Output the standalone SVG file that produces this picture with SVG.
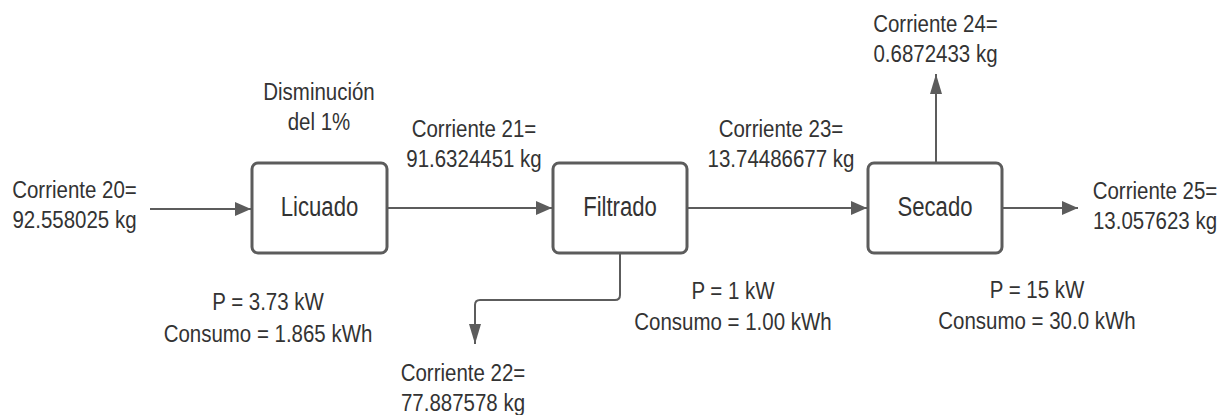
<svg xmlns="http://www.w3.org/2000/svg" width="1225" height="415" viewBox="0 0 1225 415">
<style>
.box{fill:#ffffff;stroke:#5c5c5c;stroke-width:3}
.ln{fill:none;stroke:#5c5c5c;stroke-width:2}
.t{font-family:"Liberation Sans",Arial,sans-serif;font-size:23px;fill:#333333;text-anchor:middle}
.b{font-family:"Liberation Sans",Arial,sans-serif;font-size:28px;fill:#333333;text-anchor:middle}
</style>
<defs>
<marker id="ah" markerUnits="userSpaceOnUse" markerWidth="16" markerHeight="14" refX="16" refY="7" orient="auto">
<path d="M0,0 L16,7 L0,14 Z" fill="#5c5c5c"/>
</marker>
<marker id="av" markerUnits="userSpaceOnUse" markerWidth="20" markerHeight="12" refX="20" refY="6" orient="auto">
<path d="M0,0 L20,6 L0,12 Z" fill="#5c5c5c"/>
</marker>
</defs>
<rect width="1225" height="415" fill="#ffffff"/>
<g id="connectors">
<line class="ln" x1="150" y1="209" x2="251" y2="209" marker-end="url(#ah)"/>
<line class="ln" x1="388" y1="208" x2="552" y2="208" marker-end="url(#ah)"/>
<line class="ln" x1="688" y1="208" x2="867" y2="208" marker-end="url(#ah)"/>
<line class="ln" x1="1003" y1="208" x2="1078" y2="208" marker-end="url(#ah)"/>
<line class="ln" x1="936" y1="162" x2="936" y2="74" marker-end="url(#av)"/>
<path class="ln" d="M620,254 L620,295 Q620,300 615,300 L480,300 Q475,300 475,305 L475,344" marker-end="url(#av)"/>
</g>
<g id="licuado">
<rect class="box" x="252" y="163" width="135" height="90" rx="6"/>
<text class="b" transform="translate(319.5 0) scale(0.79 1)" x="0" y="216">Licuado</text>
</g>
<g id="filtrado">
<rect class="box" x="553" y="163" width="134" height="90" rx="6"/>
<text class="b" transform="translate(620 0) scale(0.79 1)" x="0" y="216">Filtrado</text>
</g>
<g id="secado">
<rect class="box" x="868" y="163" width="134" height="90" rx="6"/>
<text class="b" transform="translate(935 0) scale(0.79 1)" x="0" y="216">Secado</text>
</g>
<g id="labels">
<text class="t" transform="translate(74.5 0) scale(0.89 1)"><tspan x="0" y="198">Corriente 20=</tspan><tspan x="0" y="228">92.558025 kg</tspan></text>
<text class="t" transform="translate(319 0) scale(0.89 1)"><tspan x="0" y="100">Disminución</tspan><tspan x="0" y="130">del 1%</tspan></text>
<text class="t" transform="translate(474 0) scale(0.89 1)"><tspan x="0" y="137">Corriente 21=</tspan><tspan x="0" y="167">91.6324451 kg</tspan></text>
<text class="t" transform="translate(781 0) scale(0.89 1)"><tspan x="0" y="137">Corriente 23=</tspan><tspan x="0" y="167">13.74486677 kg</tspan></text>
<text class="t" transform="translate(935.5 0) scale(0.89 1)"><tspan x="0" y="32">Corriente 24=</tspan><tspan x="0" y="62">0.6872433 kg</tspan></text>
<text class="t" transform="translate(1155 0) scale(0.89 1)"><tspan x="0" y="199">Corriente 25=</tspan><tspan x="0" y="229">13.057623 kg</tspan></text>
<text class="t" transform="translate(463 0) scale(0.89 1)"><tspan x="0" y="381">Corriente 22=</tspan><tspan x="0" y="411">77.887578 kg</tspan></text>
<text class="t" transform="translate(268 0) scale(0.89 1)"><tspan x="0" y="310">P = 3.73 kW</tspan><tspan x="0" y="342">Consumo = 1.865 kWh</tspan></text>
<text class="t" transform="translate(733 0) scale(0.89 1)"><tspan x="0" y="299">P = 1 kW</tspan><tspan x="0" y="330">Consumo = 1.00 kWh</tspan></text>
<text class="t" transform="translate(1037 0) scale(0.89 1)"><tspan x="0" y="298">P = 15 kW</tspan><tspan x="0" y="329">Consumo = 30.0 kWh</tspan></text>
</g>
</svg>
